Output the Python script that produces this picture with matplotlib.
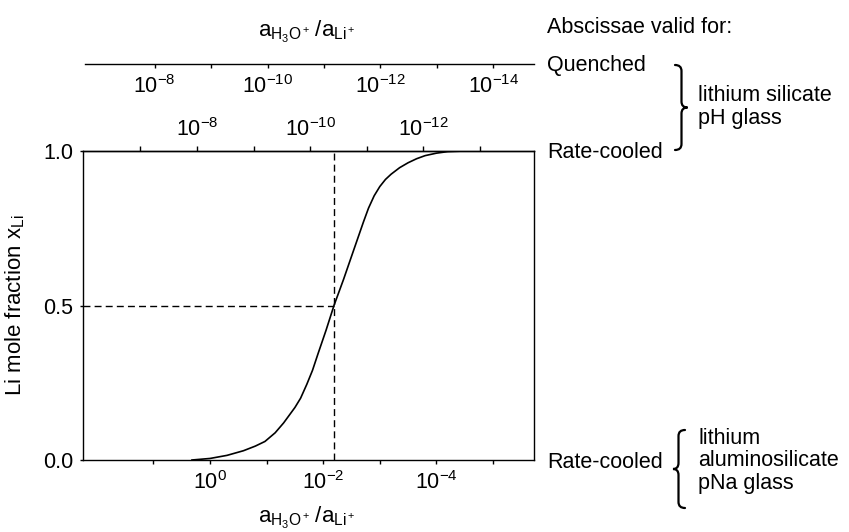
import matplotlib
matplotlib.use("Agg")
import matplotlib.pyplot as plt
from matplotlib.path import Path
from matplotlib.patches import PathPatch

plt.rcParams['font.family'] = ['Liberation Sans', 'DejaVu Sans']
plt.rcParams['mathtext.fontset'] = 'custom'
plt.rcParams['mathtext.rm'] = 'Liberation Sans'
plt.rcParams['mathtext.it'] = 'Liberation Sans'
plt.rcParams['mathtext.bf'] = 'Liberation Sans:bold'
plt.rcParams['mathtext.default'] = 'regular'
plt.rcParams['font.size'] = 15.5
plt.rcParams['xtick.labelsize'] = 15.5
plt.rcParams['ytick.labelsize'] = 15.5

# Exchange isotherm: -log10(a_H3O+/a_Li+) on the rate-cooled aluminosilicate scale
neg_log_ratio = [-0.32, 0.00, 0.30, 0.59, 0.80, 0.97, 1.15, 1.30, 1.50, 1.60,
                 1.71, 1.81, 1.91, 2.05, 2.19, 2.36, 2.53, 2.71, 2.80, 2.90,
                 3.00, 3.10, 3.20, 3.35, 3.50, 3.65, 3.80, 4.00, 4.20, 4.50,
                 4.71]
x_li = [0.000, 0.005, 0.015, 0.030, 0.045, 0.060, 0.088, 0.120, 0.170, 0.200,
        0.245, 0.290, 0.345, 0.420, 0.500, 0.585, 0.675, 0.770, 0.815, 0.855,
        0.885, 0.908, 0.925, 0.946, 0.962, 0.975, 0.985, 0.993, 0.998, 1.000,
        1.000]

# Half-exchange point
half_exchange = 2.19

# Offsets of the two silicate-glass scales relative to the bottom scale (decades)
rate_cooled_offset = 8.23
quenched_offset = 9.0

bottom_ticks = [-1, 0, 1, 2, 3, 4, 5]
bottom_labels = ['', r'$10^{0}$', '', r'$10^{-2}$', '', r'$10^{-4}$', '']
top_ticks = [7, 8, 9, 10, 11, 12, 13]
top_labels = ['', r'$10^{-8}$', '', r'$10^{-10}$', '', r'$10^{-12}$', '']
quench_ticks = [8, 9, 10, 11, 12, 13, 14]
quench_labels = [r'$10^{-8}$', '', r'$10^{-10}$', '', r'$10^{-12}$', '', r'$10^{-14}$']
y_ticks = [0.0, 0.5, 1.0]
y_labels = ['0.0', '0.5', '1.0']

ratio_label = r'$a_{H_3O^+}\,/a_{Li^+}$'

W, H = 849, 532
fig = plt.figure(figsize=(W / 100, H / 100), dpi=100)


def fx(px):
    return px / W


def fy(py):
    return 1 - py / H


x_lo, x_hi = -2.24, 5.73
ax_left, ax_right, ax_top, ax_bot = 83.3, 534.3, 151, 460
ax = fig.add_axes([fx(ax_left), fy(ax_bot), fx(ax_right - ax_left), (ax_bot - ax_top) / H])

ax.plot(neg_log_ratio, x_li, color='black', lw=1.2, solid_joinstyle='round')
ax.plot([half_exchange, half_exchange], [0, 1], color='black', lw=1.0,
        dashes=(5, 3))
ax.plot([x_lo, half_exchange], [0.5, 0.5], color='black', lw=1.0,
        dashes=(5, 3))

ax.set_xlim(x_lo, x_hi)
ax.set_ylim(0, 1)
ax.set_xticks(bottom_ticks, bottom_labels)
ax.set_yticks(y_ticks, y_labels)
ax.tick_params(axis='x', direction='out', length=3, width=1.0, pad=5)
ax.tick_params(axis='y', direction='out', length=2.5, width=1.0, pad=5)
for s in ax.spines.values():
    s.set_linewidth(1.0)
ax.set_ylabel('Li mole fraction x$_{Li}$', fontsize=16)
ax.yaxis.set_label_coords(-0.125, 0.5)

# Rate-cooled lithium silicate scale on the top spine
sec = ax.secondary_xaxis('top', functions=(lambda d: d + rate_cooled_offset,
                                           lambda t: t - rate_cooled_offset))
sec.set_xticks(top_ticks, top_labels)
sec.tick_params(direction='out', length=3.5, width=1.0, pad=4)
sec.spines['top'].set_linewidth(1.0)

# Quenched lithium silicate scale as a free-standing axis line
axq = fig.add_axes([fx(ax_left + 1.5), fy(64.3), fx(ax_right - ax_left - 1.5), 0.01])
axq.set_xlim(x_lo + quenched_offset, x_hi + quenched_offset)
axq.set_xticks(quench_ticks, quench_labels)
axq.set_yticks([])
axq.patch.set_visible(False)
for side in ('top', 'left', 'right'):
    axq.spines[side].set_visible(False)
axq.spines['bottom'].set_linewidth(1.0)
axq.tick_params(axis='x', direction='out', length=3, width=1.0, pad=5)

# Axis titles
fig.text(fx(307), fy(518), ratio_label, ha='center', va='center', fontsize=16)
fig.text(fx(307), fy(32), ratio_label, ha='center', va='center', fontsize=16)

# Annotations on the right
fig.text(fx(547), fy(28), 'Abscissae valid for:', ha='left', va='center')
fig.text(fx(547), fy(65), 'Quenched', ha='left', va='center')
fig.text(fx(547), fy(152), 'Rate-cooled', ha='left', va='center')
fig.text(fx(547), fy(463), 'Rate-cooled', ha='left', va='center')
fig.text(fx(698), fy(107), 'lithium silicate\npH glass', ha='left', va='center',
         linespacing=1.1)
fig.text(fx(698), fy(461), 'lithium\naluminosilicate\npNa glass', ha='left',
         va='center', linespacing=1.1)


def brace(xe, xs, xt, y0, y1, r):
    ym = (y0 + y1) / 2
    pts = [(xe, y0), (xs, y0), (xs, y0 + r), (xs, ym - r), (xs, ym), (xt, ym),
           (xs, ym), (xs, ym + r), (xs, y1 - r), (xs, y1), (xe, y1)]
    codes = [Path.MOVETO, Path.CURVE3, Path.CURVE3, Path.LINETO, Path.CURVE3,
             Path.CURVE3, Path.CURVE3, Path.CURVE3, Path.LINETO, Path.CURVE3,
             Path.CURVE3]
    verts = [(fx(x), fy(y)) for x, y in pts]
    fig.add_artist(PathPatch(Path(verts, codes), transform=fig.transFigure,
                             fill=False, lw=1.6, color='black',
                             capstyle='round'))


brace(675, 681.5, 687.5, 65, 150, 6)
brace(685, 678.5, 673, 430, 508, 6)

fig.savefig('out.png', dpi=100)
